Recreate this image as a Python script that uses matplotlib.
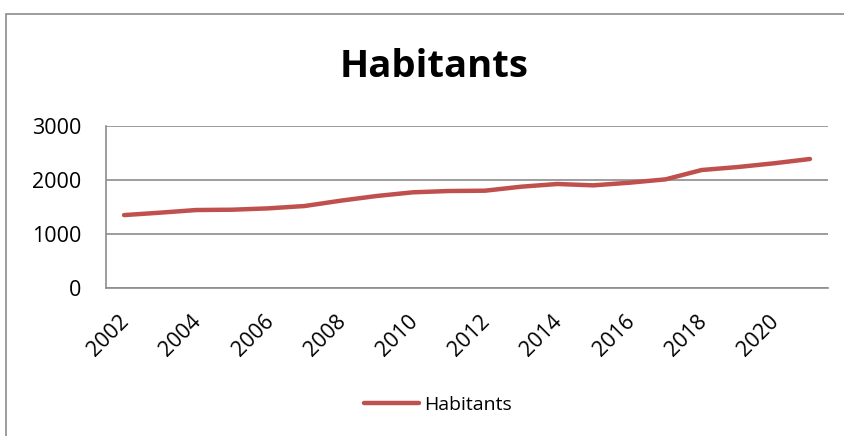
import matplotlib.pyplot as plt
from matplotlib.patches import Rectangle
from matplotlib.transforms import ScaledTranslation

years = list(range(2002, 2022))
habitants = [1350, 1395, 1444, 1450, 1475, 1518, 1617, 1704, 1772, 1796,
             1802, 1876, 1926, 1901, 1950, 2012, 2185, 2240, 2309, 2389]
tick_years = list(range(2002, 2021, 2))

plt.rcParams['font.family'] = ['Open Sans', 'DejaVu Sans']
grey = '#8c8c8c'

fig = plt.figure(figsize=(8.45, 4.36), dpi=100)
ax = fig.add_axes([106 / 845, 1 - 288 / 436, 722 / 845, 162 / 436])

ax.plot(years, habitants, color='#C0504D', linewidth=3.2,
        solid_capstyle='round', label='Habitants')

ax.set_xlim(2001.5, 2021.5)
ax.set_ylim(0, 3000)
ax.set_yticks([0, 1000, 2000, 3000])
ax.set_xticks(tick_years)
ax.set_xticklabels([str(y) for y in tick_years], rotation=45, ha='right',
                   va='center', rotation_mode='anchor', fontsize=15.5)
ax.tick_params(axis='y', labelsize=15.5, length=0, pad=18)
ax.tick_params(axis='x', length=0, pad=22)
shift = ScaledTranslation(2 / 100, 0, fig.dpi_scale_trans)
for lbl in ax.get_xticklabels():
    lbl.set_transform(lbl.get_transform() + shift)
ax.yaxis.grid(True, color=grey, linewidth=1.2)
ax.set_axisbelow(True)
for side in ['top', 'right']:
    ax.spines[side].set_visible(False)
for side in ['left', 'bottom']:
    ax.spines[side].set_color(grey)
    ax.spines[side].set_linewidth(1.2)

fig.text(434 / 845, 1 - 67 / 436, 'Habitants', ha='center', va='center',
         fontsize=27.5, fontweight='bold')

fig.legend(loc='center', bbox_to_anchor=(438 / 845, 1 - 405 / 436),
           frameon=False, fontsize=14, handlelength=2.8, handletextpad=0.25)

fig.add_artist(Rectangle((6 / 845, -0.5), 1.5, 1.5 - 14 / 436,
                         transform=fig.transFigure, fill=False,
                         edgecolor=grey, linewidth=1.2))

fig.savefig('out.png', dpi=100)
